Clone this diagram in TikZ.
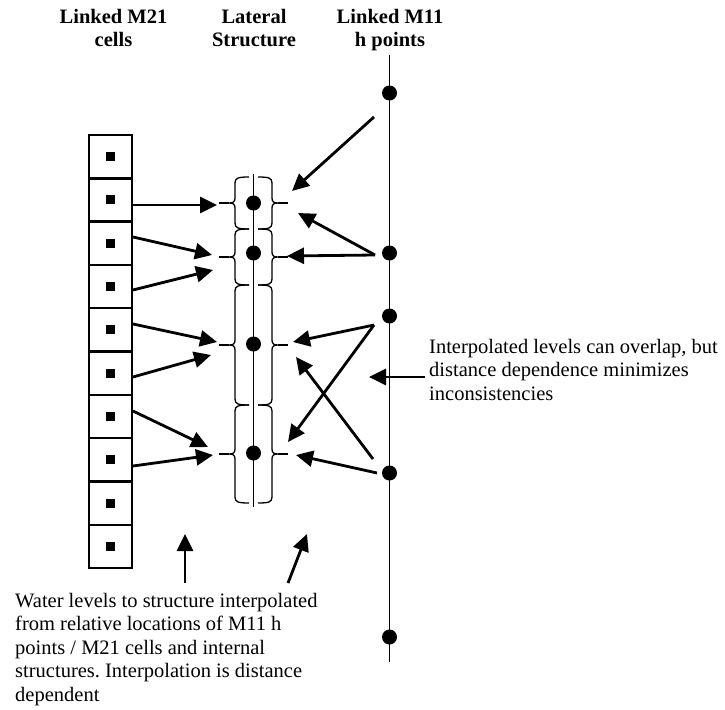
\documentclass[tikz,border=0pt]{standalone}
\usepackage{fontspec}
\setmainfont{Liberation Serif}
\usetikzlibrary{arrows.meta}
\frenchspacing
\begin{document}
\begin{tikzpicture}[x=1pt,y=-1pt,
  cell/.style={draw, line width=2.4pt, minimum width=43pt, minimum height=43.3pt, inner sep=0pt, outer sep=0pt},
  sq/.style={fill, minimum size=9pt, inner sep=0pt},
  bdot/.style={circle, fill, minimum size=15pt, inner sep=0pt},
  arr/.style={line width=2.8pt, -{Triangle[length=17pt,width=16pt]}},
  thinline/.style={line width=1.2pt},
  brc/.style={line width=1.3pt},
  title/.style={font=\fontsize{20.5}{23}\selectfont\bfseries, align=center, inner sep=0pt, anchor=north},
  note/.style={font=\fontsize{20.5}{23.5}\selectfont, align=left, inner sep=0pt, anchor=north west}
]
\useasboundingbox (0,0) rectangle (725,709);

% titles
\node[title] (tcells) at (113.5,9.5) {Linked M21\\cells};
\node[title] (tlat) at (254,9.5) {Lateral\\Structure};
\node[title] (tm11) at (390,9.5) {Linked M11\\h points};

% M21 cells
\foreach \i in {1,...,10} {
  \node[cell] (c\i) at (110.5,{135+43.3*(\i-0.5)}) {};
  \node[sq] (q\i) at (c\i.center) {};
}

% lateral structure
\coordinate (stop) at (253.5,174);
\coordinate (sbot) at (253.5,507);
\draw[thinline] (stop) -- (sbot);
\foreach \a/\b/\m in {177/229/203, 229/285/257, 285/405/345, 405/503/454} {
  \draw[brc] (249,\a) .. controls (238,\a) and (235,\a+1) .. (235,\a+6) -- (235,\m-5)
     .. controls (235,\m-1) and (233,\m) .. (229,\m)
     .. controls (233,\m) and (235,\m+1) .. (235,\m+5) -- (235,\b-6)
     .. controls (235,\b-1) and (238,\b) .. (249,\b);
  \draw[brc] (229,\m) -- (219,\m);
  \draw[brc] (258,\a) .. controls (269,\a) and (272,\a+1) .. (272,\a+6) -- (272,\m-5)
     .. controls (272,\m-1) and (274,\m) .. (278,\m)
     .. controls (274,\m) and (272,\m+1) .. (272,\m+5) -- (272,\b-6)
     .. controls (272,\b-1) and (269,\b) .. (258,\b);
  \draw[brc] (278,\m) -- (288,\m);
}
\node[bdot] (s1) at (253.5,203) {};
\node[bdot] (s2) at (253.5,253) {};
\node[bdot] (s3) at (253.5,344) {};
\node[bdot] (s4) at (253.5,453) {};

% M11 line
\coordinate (mtop) at (389.5,55);
\coordinate (mbot) at (389.5,662);
\draw[thinline] (mtop) -- (mbot);
\node[bdot] (m1) at (389.5,93) {};
\node[bdot] (m2) at (389.5,253) {};
\node[bdot] (m3) at (389.5,316) {};
\node[bdot] (m4) at (389.5,473) {};
\node[bdot] (m5) at (389.5,637) {};

% arrows from cells
\coordinate (a1s) at (133,205); \coordinate (a1t) at (217,205);
\coordinate (a2s) at (133,237); \coordinate (a2t) at (212,255);
\coordinate (a3s) at (133,290); \coordinate (a3t) at (213,270);
\coordinate (a4s) at (133,324); \coordinate (a4t) at (217,342);
\coordinate (a5s) at (133,377); \coordinate (a5t) at (211,355);
\coordinate (a6s) at (133,411); \coordinate (a6t) at (208,447);
\coordinate (a7s) at (133,466); \coordinate (a7t) at (213,455);
\foreach \k in {1,...,7} \draw[arr] (a\k s) -- (a\k t);

% arrows from M11 side
\coordinate (b1s) at (374,117); \coordinate (b1t) at (292,191);
\coordinate (b2s) at (375,255); \coordinate (b2t) at (298,213);
\coordinate (b3t) at (287,256);
\coordinate (b4s) at (374,325); \coordinate (b4t) at (293,342);
\coordinate (b5t) at (288,442);
\coordinate (b6s) at (373,459); \coordinate (b6t) at (296,357);
\coordinate (b7s) at (377,473); \coordinate (b7t) at (296,455);
\draw[arr] (b1s) -- (b1t);
\draw[arr] (b2s) -- (b2t);
\draw[arr] (b2s) -- (b3t);
\draw[arr] (b4s) -- (b4t);
\draw[arr] (b4s) -- (b5t);
\draw[arr] (b6s) -- (b6t);
\draw[arr] (b7s) -- (b7t);

% annotation right
\node[note] (nright) at (429,339) {Interpolated levels can overlap, but\\distance dependence minimizes\\inconsistencies};
\coordinate (n1s) at (425,377); \coordinate (n1t) at (369,377);
\draw[arr] (n1s) -- (n1t);

% annotation bottom
\node[note] (nbot) at (15,593) {Water levels to structure interpolated\\from relative locations of M11 h\\points / M21 cells and internal\\structures. Interpolation is distance\\dependent};
\coordinate (u1s) at (185,583); \coordinate (u1t) at (185,534);
\coordinate (u2s) at (288,583); \coordinate (u2t) at (307,534);
\draw[arr] (u1s) -- (u1t);
\draw[arr] (u2s) -- (u2t);
\end{tikzpicture}
\end{document}
